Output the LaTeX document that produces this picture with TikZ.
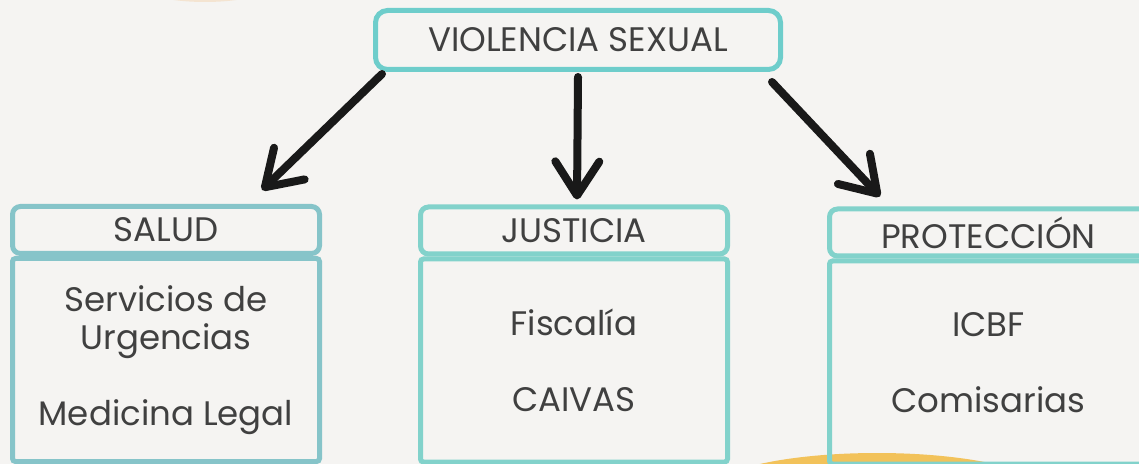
\documentclass[tikz,border=0pt]{standalone}
\usepackage{fontspec}
\setmainfont{Poppins}
\usepackage{xcolor}
\usepackage{tikz}
\usetikzlibrary{arrows.meta, positioning}

\definecolor{paper}{HTML}{F5F4F2}
\definecolor{topteal}{HTML}{6ECDCB}
\definecolor{saludteal}{HTML}{86C4C9}
\definecolor{boxteal}{HTML}{82D2CB}
\definecolor{inktext}{HTML}{404040}
\definecolor{sunyellow}{HTML}{F2C25A}
\definecolor{peach}{HTML}{F4E4D1}

\begin{document}
\begin{tikzpicture}[x=0.5pt, y=-0.5pt]
\tikzstyle{titlebox} = [rectangle, draw=topteal, line width=2.5pt, rounded corners=6pt, minimum width=202.5pt, minimum height=29.5pt, text=inktext, font=\fontsize{17}{19}\selectfont]
\tikzstyle{headbox} = [rectangle, draw=boxteal, line width=2.5pt, rounded corners=4pt, minimum width=153.5pt, minimum height=23.5pt, text=inktext, font=\fontsize{17}{19}\selectfont]
\tikzstyle{listbox} = [rectangle, draw=boxteal, line width=2.5pt, rounded corners=1.5pt, minimum width=153.5pt, minimum height=101.5pt, align=center, text=inktext, font=\fontsize{17}{19}\selectfont]
\tikzstyle{arrow} = [line width=4pt, line cap=round, draw=black!90, -{Straight Barb[length=17pt, width=22pt, round]}]

\useasboundingbox (0,0) rectangle (1139,464);
\clip (0,0) rectangle (1139,464);
\fill[paper] (0,0) rectangle (1139,464);
\fill[peach] (205,-30) ellipse [x radius=45pt, y radius=16pt];
\fill[sunyellow] (877,493) ellipse [x radius=85pt, y radius=20pt];

\node (title) [titlebox] at (578,40) {VIOLENCIA SEXUAL};

\node (salud) [headbox, draw=saludteal] at (166,230) {SALUD};
\node (justicia) [headbox] at (574,230.5) {JUSTICIA};
\node (proteccion) [headbox, minimum width=159pt] at (988.5,232.5) {PROTECCIÓN};

\node (saludlist) [listbox, draw=saludteal, below=0pt of salud] {Servicios de\\Urgencias\\[19pt]Medicina Legal};
\node (justicialist) [listbox, below=0pt of justicia] {Fiscalía\\[19pt]CAIVAS};
\node (proteccionlist) [listbox, minimum width=159pt, below=0pt of proteccion] {ICBF\\[19pt]Comisarias};

\draw [arrow] ([xshift=4.5pt, yshift=-1pt]title.south west) -- ([xshift=-30pt, yshift=7pt]salud.north east);
\draw [arrow] ([yshift=-2.5pt]title.south) -- ([xshift=1.5pt, yshift=2.5pt]justicia.north);
\draw [arrow] ([xshift=-5.5pt, yshift=-5pt]title.south east) -- ([xshift=26.5pt, yshift=5pt]proteccion.north west);

\end{tikzpicture}
\end{document}
